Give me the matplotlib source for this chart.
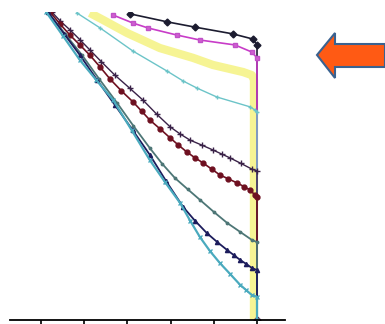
import matplotlib
matplotlib.use("Agg")
import matplotlib.pyplot as plt
from matplotlib.patches import Polygon

# curves, top to bottom; x in tick units, y in percent of plot height
black_x = [2.06, 2.92, 3.56, 4.44, 4.91, 5.0, 5.0]
black_y = [99.4, 96.8, 95.1, 92.9, 91.2, 89.3, 0]

magenta_x = [1.67, 2.13, 2.48, 3.15, 3.68, 4.49, 4.88, 5.0, 5.0]
magenta_y = [99.0, 96.4, 94.8, 92.5, 90.9, 89.3, 87.0, 85.1, 0]

yellow_x = [1.13, 1.44, 1.99, 2.75, 3.52, 3.98, 4.68, 4.88, 4.93, 4.93]
yellow_y = [99.7, 97.4, 93.2, 88.3, 85.1, 82.8, 80.5, 79.5, 78.0, 0]

lcyan_x = [0.83, 1.37, 2.13, 2.92, 3.29, 3.61, 4.07, 4.84, 4.95, 5.0, 5.0]
lcyan_y = [99.7, 94.8, 87.3, 80.8, 77.6, 75.3, 72.4, 69.2, 68.2, 67.5, 0]

purple_x = [0.25, 0.45, 0.67, 0.90, 1.13, 1.40, 1.71, 2.05, 2.36, 2.68, 2.99,
            3.22, 3.45, 3.72, 3.98, 4.18, 4.38, 4.62, 4.88, 5.0, 5.0]
purple_y = [100, 97.0, 94.2, 91.0, 87.7, 83.8, 79.5, 75.3, 71.4, 66.8, 62.7,
            60.4, 58.4, 56.8, 55.2, 53.9, 52.6, 50.9, 49.0, 48.4, 0]

red_x = [0.21, 0.44, 0.67, 0.90, 1.13, 1.37, 1.60, 1.86, 2.13, 2.33, 2.52,
         2.76, 2.99, 3.18, 3.38, 3.56, 3.75, 3.95, 4.14, 4.34, 4.54, 4.70,
         4.84, 4.95, 5.0, 5.0]
red_y = [100, 96.1, 92.5, 89.3, 86.0, 82.1, 78.2, 74.4, 70.8, 67.8, 64.9,
         62.0, 59.1, 56.8, 54.5, 52.7, 51.0, 49.0, 47.1, 45.8, 44.5, 43.3,
         42.2, 40.6, 40.0, 0]

green_x = [0.16, 0.55, 0.95, 1.35, 1.76, 2.14, 2.52, 2.80, 3.10, 3.40, 3.68,
           4.00, 4.31, 4.60, 4.88, 5.0, 5.0]
green_y = [100, 93.0, 86.0, 78.2, 70.5, 63.0, 55.8, 50.8, 46.1, 42.4, 39.0,
           35.1, 31.5, 28.7, 26.0, 25.3, 0]

navy_x = [0.16, 0.53, 0.90, 1.30, 1.71, 2.12, 2.52, 2.90, 3.29, 3.56, 3.84,
          4.08, 4.31, 4.46, 4.61, 4.75, 4.88, 5.0, 5.0]
navy_y = [100, 93.0, 86.0, 77.9, 69.8, 61.7, 53.6, 45.0, 36.7, 32.3, 28.2,
          25.3, 22.7, 21.1, 19.5, 18.2, 16.9, 16.2, 0]

cyan_x = [0.12, 0.51, 0.90, 1.28, 1.67, 2.10, 2.52, 2.87, 3.22, 3.45, 3.68,
          3.91, 4.14, 4.38, 4.61, 4.75, 4.88, 5.0, 5.0]
cyan_y = [100, 92.2, 84.4, 77.9, 71.4, 61.6, 51.9, 44.8, 38.0, 32.3, 26.9,
          22.4, 18.5, 14.9, 11.4, 9.7, 8.1, 7.5, 0]

tick_pos = [0, 1, 2, 3, 4, 5]

W, H = 385, 324
fig = plt.figure(figsize=(W / 100, H / 100), dpi=100)
ax = fig.add_axes([10 / W, 4 / H, 275 / W, 308 / H])

ax.plot(yellow_x, yellow_y, color="#f4f27a", lw=6, alpha=0.8, solid_capstyle="butt")
ax.plot(black_x, black_y, color="#1c1c30", lw=1.2, marker="D", ms=3.5)
ax.plot(magenta_x, magenta_y, color="#c83cc8", lw=1.2, marker="s", ms=3.5,
        mec="#c050c8", mfc="#d060d0")
ax.plot(lcyan_x, lcyan_y, color="#6cc4c8", lw=1.0, marker="+", ms=3)
ax.plot(purple_x, purple_y, color="#3a2248", lw=1.0, marker="+", ms=4)
ax.plot(red_x, red_y, color="#6e1020", lw=1.2, marker="o", ms=3.5)
ax.plot(green_x, green_y, color="#4d7676", lw=1.3, marker=".", ms=3.5)
ax.plot(navy_x, navy_y, color="#1c1c5c", lw=1.3, marker="^", ms=3)
ax.plot(cyan_x, cyan_y, color="#4aaabe", lw=1.6, marker="x", ms=3)

ax.set_xlim(-0.718, 5.648)
ax.set_ylim(0, 100)
for side in ("left", "right", "top"):
    ax.spines[side].set_visible(False)
ax.spines["bottom"].set_linewidth(1.3)
ax.set_xticks(tick_pos)
ax.set_xticklabels([])
ax.set_yticks([])
ax.tick_params(axis="x", direction="out", length=6, width=1.2)

# orange arrow on the right
pts = [(317, 55), (335, 33), (335, 44), (385, 44), (385, 67), (335, 67), (335, 78)]
arrow = Polygon([(px / W, 1 - py / H) for px, py in pts], closed=True,
                transform=fig.transFigure, facecolor="#ff5a14",
                edgecolor="#3a6290", lw=1.5, clip_on=False)
fig.patches.append(arrow)

fig.savefig("out.png", dpi=100)
